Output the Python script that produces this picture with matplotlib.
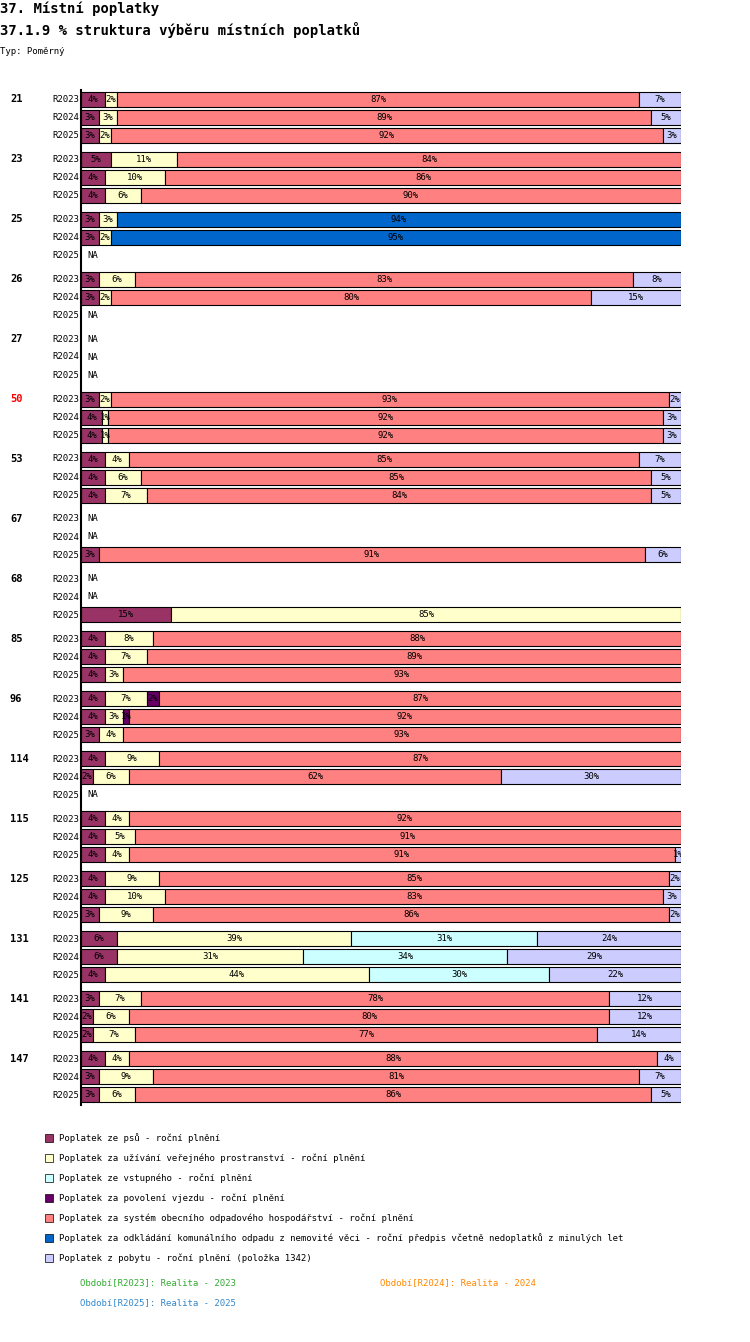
import numpy as np
import matplotlib.pyplot as plt

W, H = 750, 1342

groups = ['21', '23', '25', '26', '27', '50', '53', '67', '68', '85', '96', '114', '115', '125', '131', '141', '147']
periods = ['R2023', 'R2024', 'R2025']
series = ['Poplatek ze psů - roční plnění',
          'Poplatek za užívání veřejného prostranství - roční plnění',
          'Poplatek ze vstupného - roční plnění',
          'Poplatek za povolení vjezdu - roční plnění',
          'Poplatek za systém obecního odpadového hospodářství - roční plnění',
          'Poplatek za odkládání komunálního odpadu z nemovité věci - roční předpis včetně nedoplatků z minulých let',
          'Poplatek z pobytu - roční plnění (položka 1342)']
colors = ['#993366', '#ffffcc', '#ccffff', '#660066', '#ff8080', '#0066cc', '#ccccff']

# shares per row: psy, uzivani, vstupne, vjezd, odpad, odkladani, pobyt ; None = NA
data = {
    '21': [[4, 2, 0, 0, 87, 0, 7], [3, 3, 0, 0, 89, 0, 5], [3, 2, 0, 0, 92, 0, 3]],
    '23': [[5, 11, 0, 0, 84, 0, 0], [4, 10, 0, 0, 86, 0, 0], [4, 6, 0, 0, 90, 0, 0]],
    '25': [[3, 3, 0, 0, 0, 94, 0], [3, 2, 0, 0, 0, 95, 0], None],
    '26': [[3, 6, 0, 0, 83, 0, 8], [3, 2, 0, 0, 80, 0, 15], None],
    '27': [None, None, None],
    '50': [[3, 2, 0, 0, 93, 0, 2], [3.5, 1, 0, 0, 92.5, 0, 3], [3.5, 1, 0, 0, 92.5, 0, 3]],
    '53': [[4, 4, 0, 0, 85, 0, 7], [4, 6, 0, 0, 85, 0, 5], [4, 7, 0, 0, 84, 0, 5]],
    '67': [None, None, [3, 0, 0, 0, 91, 0, 6]],
    '68': [None, None, [15, 85, 0, 0, 0, 0, 0]],
    '85': [[4, 8, 0, 0, 88, 0, 0], [4, 7, 0, 0, 89, 0, 0], [4, 3, 0, 0, 93, 0, 0]],
    '96': [[4, 7, 0, 2, 87, 0, 0], [4, 3, 0, 1, 92, 0, 0], [3, 4, 0, 0, 93, 0, 0]],
    '114': [[4, 9, 0, 0, 87, 0, 0], [2, 6, 0, 0, 62, 0, 30], None],
    '115': [[4, 4, 0, 0, 92, 0, 0], [4, 5, 0, 0, 91, 0, 0], [4, 4, 0, 0, 91, 0, 1]],
    '125': [[4, 9, 0, 0, 85, 0, 2], [4, 10, 0, 0, 83, 0, 3], [3, 9, 0, 0, 86, 0, 2]],
    '131': [[6, 39, 31, 0, 0, 0, 24], [6, 31, 34, 0, 0, 0, 29], [4, 44, 30, 0, 0, 0, 22]],
    '141': [[3, 7, 0, 0, 78, 0, 12], [2, 6, 0, 0, 80, 0, 12], [2, 7, 0, 0, 77, 0, 14]],
    '147': [[4, 4, 0, 0, 88, 0, 4], [3, 9, 0, 0, 81, 0, 7], [3, 6, 0, 0, 86, 0, 5]],
}

mono = 'DejaVu Sans Mono'
fig = plt.figure(figsize=(W / 100, H / 100), dpi=100)


def fx(px):
    return px / W


def fy(py):
    return 1 - py / H


fig.text(fx(0), fy(9), '37. Místní poplatky', family=mono, weight='bold', fontsize=10, va='center')
fig.text(fx(0), fy(30), '37.1.9 % struktura výběru místních poplatků', family=mono, weight='bold', fontsize=10, va='center')
fig.text(fx(0), fy(51), 'Typ: Poměrný', family=mono, fontsize=6.5, va='center')

top, bot = 90, 1105
ax = fig.add_axes([fx(81), fy(bot), fx(681) - fx(81), (bot - top) / H])
ax.set_xlim(0, 100)
ax.set_ylim(bot, top)
ax.axis('off')
ax.plot([0, 0], [top, bot], color='black', lw=1.5, clip_on=False)

for gi, g in enumerate(groups):
    y0 = 99 + 60 * gi
    fig.text(fx(10), fy(y0), g, family=mono, weight='bold', fontsize=7.5, va='center',
             color='red' if g == '50' else 'black')
    for pi, p in enumerate(periods):
        y = y0 + 18 * pi
        fig.text(fx(79), fy(y), p, family=mono, fontsize=6.5, va='center', ha='right')
        row = data[g][pi]
        if row is None:
            ax.text(1, y, 'NA', family=mono, fontsize=6.5, va='center')
            continue
        left = 0
        for si, v in enumerate(row):
            if v <= 0:
                continue
            ax.barh(y, v, left=left, height=15, color=colors[si], edgecolor='black', lw=0.8)
            ax.text(left + v / 2, y, '%d%%' % round(v), family=mono, fontsize=6.5,
                    ha='center', va='center', clip_on=True)
            left += v

for si, s in enumerate(series):
    y = 1138 + 20 * si
    fig.patches.append(plt.Rectangle((fx(45), fy(y + 4)), fx(8), 8 / H, color=colors[si],
                                     ec='black', lw=0.5, transform=fig.transFigure))
    fig.text(fx(59), fy(y), s, family=mono, fontsize=6.5, va='center')

fig.text(fx(80), fy(1283), 'Období[R2023]: Realita - 2023', family=mono, fontsize=6.5, va='center', color='#33aa33')
fig.text(fx(380), fy(1283), 'Období[R2024]: Realita - 2024', family=mono, fontsize=6.5, va='center', color='#ff8800')
fig.text(fx(80), fy(1303), 'Období[R2025]: Realita - 2025', family=mono, fontsize=6.5, va='center', color='#3388cc')

fig.savefig('out.png', dpi=100)
